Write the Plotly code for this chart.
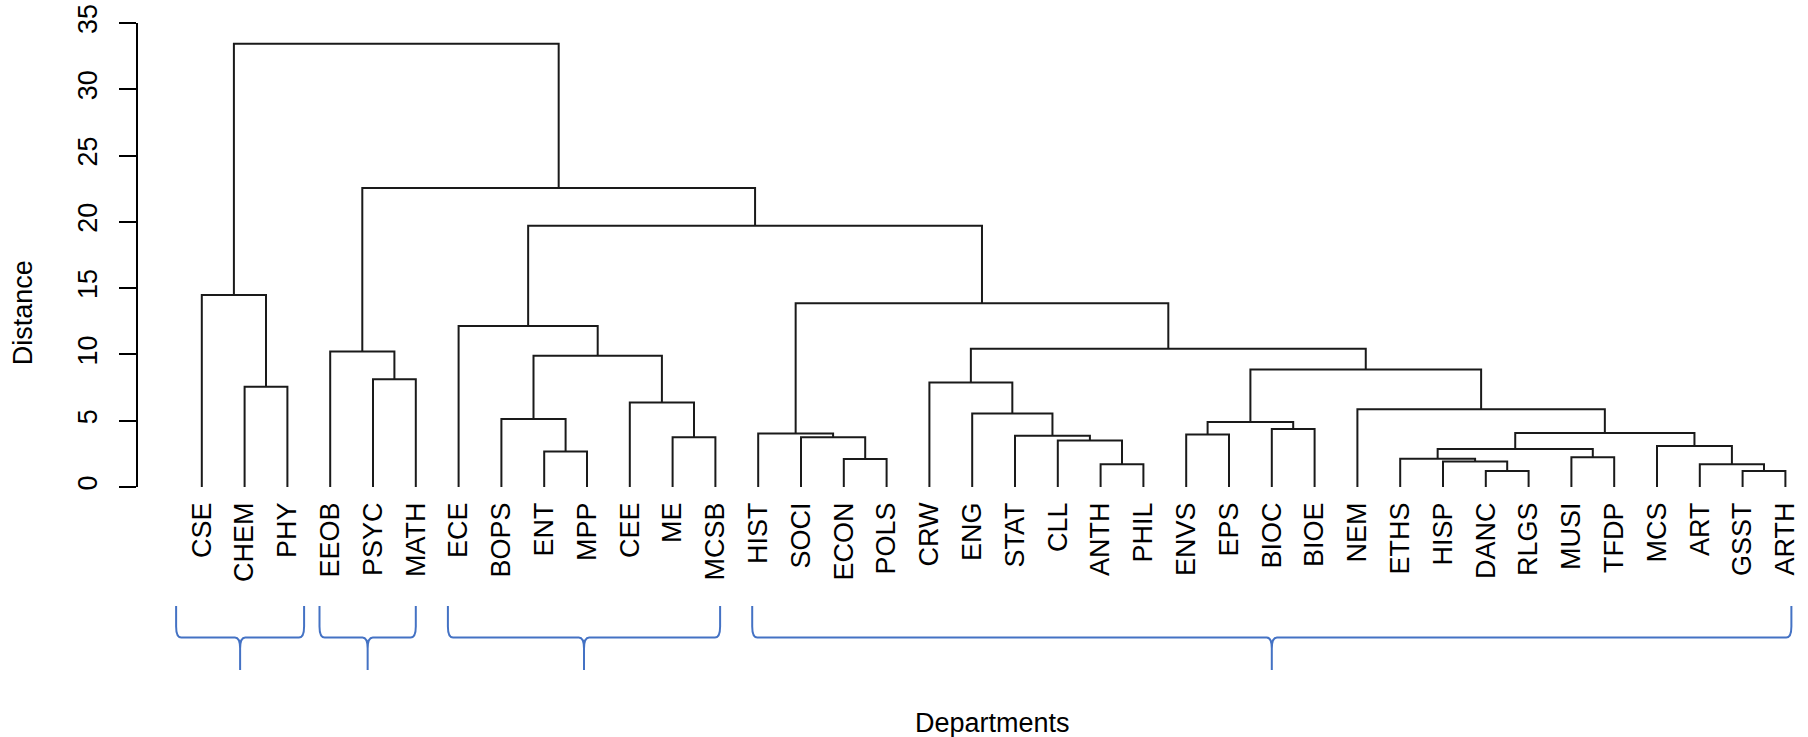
import plotly.graph_objects as go

# ---------------- data ----------------
leaf_labels = ["CSE", "CHEM", "PHY", "EEOB", "PSYC", "MATH", "ECE", "BOPS", "ENT", "MPP",
               "CEE", "ME", "MCSB", "HIST", "SOCI", "ECON", "POLS", "CRW", "ENG", "STAT",
               "CLL", "ANTH", "PHIL", "ENVS", "EPS", "BIOC", "BIOE", "NEM", "ETHS", "HISP",
               "DANC", "RLGS", "MUSI", "TFDP", "MCS", "ART", "GSST", "ARTH"]

# merges (hclust style): children are leaf labels or "m<k>" (k = 1-based merge number)
merge_left = ["GSST", "DANC", "ANTH", "ART", "HISP", "ECON", "ETHS", "MUSI", "ENT", "m7",
              "MCS", "CLL", "SOCI", "ME", "STAT", "ENVS", "HIST", "m10", "BIOC", "m16",
              "BOPS", "ENG", "NEM", "CEE", "CHEM", "CRW", "PSYC", "m20", "m21", "EEOB",
              "m26", "ECE", "m17", "CSE", "m32", "m30", "m34"]
merge_right = ["ARTH", "RLGS", "PHIL", "m1", "m2", "POLS", "m5", "TFDP", "MPP", "m8",
               "m4", "m3", "m6", "MCSB", "m12", "EPS", "m13", "m11", "BIOE", "m19",
               "m9", "m15", "m18", "m14", "PHY", "m22", "MATH", "m23", "m24", "m27",
               "m28", "m29", "m31", "m25", "m33", "m35", "m36"]
merge_height = [1.20, 1.20, 1.72, 1.72, 1.92, 2.12, 2.14, 2.24, 2.67, 2.87,
                3.10, 3.51, 3.76, 3.76, 3.86, 3.96, 4.03, 4.08, 4.38, 4.91,
                5.12, 5.55, 5.87, 6.38, 7.56, 7.89, 8.12, 8.87, 9.90, 10.23,
                10.43, 12.15, 13.86, 14.49, 19.70, 22.55, 33.44]

y_ticks = [0, 5, 10, 15, 20, 25, 30, 35]

brace_groups = [("CSE", "PHY"), ("EEOB", "MATH"), ("ECE", "MCSB"), ("HIST", "ARTH")]

# ---------------- build dendrogram segments ----------------
pos = {lab: (float(i), 0.0) for i, lab in enumerate(leaf_labels)}
xs, ys = [], []
for k, (a, b, h) in enumerate(zip(merge_left, merge_right, merge_height), start=1):
    xa, ha = pos[a]
    xb, hb = pos[b]
    xs += [xa, xa, xb, xb, None]
    ys += [ha, h, h, hb, None]
    pos["m%d" % k] = ((xa + xb) / 2.0, h)

# ---------------- geometry ----------------
W, H = 1808, 737
ML, MR, MT, MB = 138, 0, 23, 250
plot_w = W - ML - MR
plot_h = H - MT - MB
leaf0_px, leaf_step = 201.8, 42.8
x_start = -(leaf0_px - ML) / leaf_step
x_end = x_start + plot_w / leaf_step

def py(ref_y):
    return (H - MB - ref_y) / plot_h

def px(ref_x):
    return (ref_x - ML) / plot_w

FONT = "Liberation Sans, Arial, sans-serif"

fig = go.Figure()
fig.add_trace(go.Scatter(x=xs, y=ys, mode="lines",
                         line=dict(color="#1a1a1a", width=2),
                         hoverinfo="skip", showlegend=False))

# braces
brace_pad = [(-0.60, 0.39), (-0.25, 0.0), (-0.25, 0.11), (-0.14, 0.14)]
yt, ym, yb = py(606), py(637.5), py(670)
rx, ry = 0.12, 11.0 / plot_h
shapes = []
idx = {lab: i for i, lab in enumerate(leaf_labels)}
for (first, last), (pl, pr) in zip(brace_groups, brace_pad):
    x0 = idx[first] + pl
    x1 = idx[last] + pr
    xm = (x0 + x1) / 2.0
    path = (f"M {x0},{yt} L {x0},{ym + ry} Q {x0},{ym} {x0 + rx},{ym} "
            f"L {xm - rx},{ym} Q {xm},{ym} {xm},{ym - ry} L {xm},{yb} "
            f"M {xm},{ym - ry} Q {xm},{ym} {xm + rx},{ym} "
            f"L {x1 - rx},{ym} Q {x1},{ym} {x1},{ym + ry} L {x1},{yt}")
    shapes.append(dict(type="path", path=path, xref="x", yref="paper",
                       line=dict(color="#4472C4", width=2)))

fig.update_layout(
    width=W, height=H,
    margin=dict(l=ML, r=MR, t=MT, b=MB, pad=0),
    paper_bgcolor="white", plot_bgcolor="white",
    font=dict(family=FONT, color="black", size=27),
    showlegend=False,
    shapes=shapes,
    xaxis=dict(range=[x_start, x_end], tickvals=list(range(len(leaf_labels))),
               ticktext=leaf_labels, tickangle=-90, ticks="", showline=False,
               showgrid=False, zeroline=False, automargin=False,
               tickfont=dict(family=FONT, size=27, color="black"),
               ticklabelstandoff=9),
    yaxis=dict(range=[0, 35], tickvals=y_ticks, ticktext=[str(v) for v in y_ticks],
               showline=True, linecolor="black", linewidth=2,
               ticks="outside", ticklen=17, tickwidth=2, tickcolor="black",
               tickangle=-90, showgrid=False, zeroline=False, automargin=False,
               tickfont=dict(family=FONT, size=27, color="black"),
               ticklabelstandoff=11, ticklabeloverflow="allow"),
    annotations=[
        dict(text="Distance", xref="paper", yref="paper", x=px(23), y=py(313.3),
             textangle=-90, showarrow=False, xanchor="center", yanchor="middle",
             font=dict(family=FONT, size=27, color="black")),
        dict(text="Departments", xref="paper", yref="paper", x=px(992), y=py(723),
             showarrow=False, xanchor="center", yanchor="middle",
             font=dict(family=FONT, size=27, color="black")),
    ],
)

fig.write_html("out.html",
               config={"displayModeBar": False},
               post_script="document.body.style.margin='0';document.body.style.overflow='hidden';")
